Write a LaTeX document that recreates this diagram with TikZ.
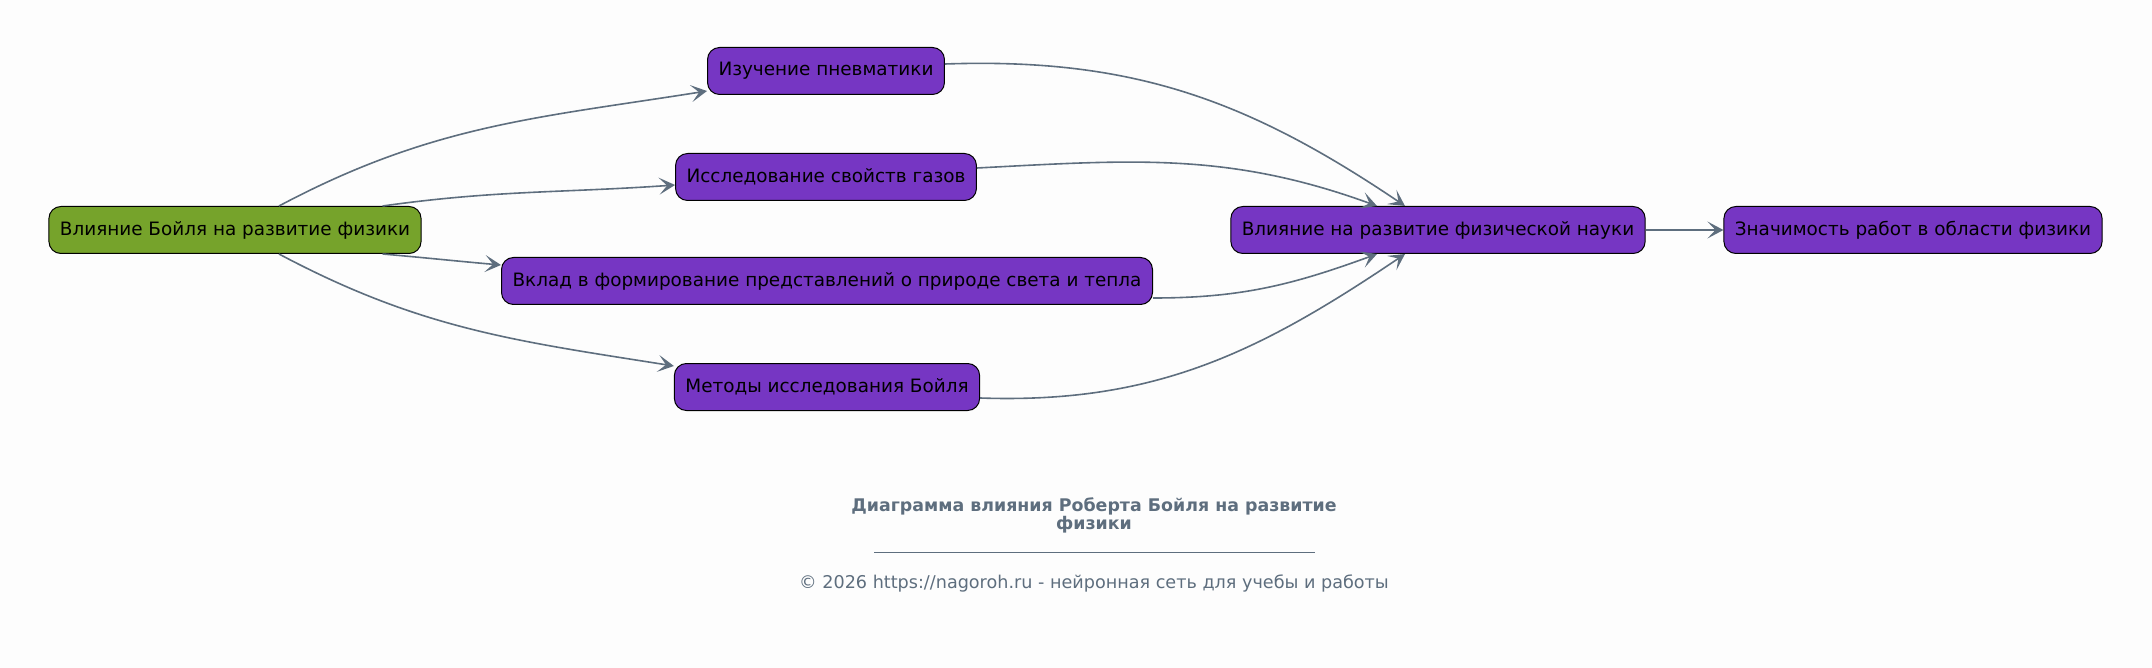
\documentclass[tikz,border=0pt]{standalone}
\usepackage{fontspec}
\setmainfont{DejaVu Sans}
\usepackage{xcolor}
\usepackage{tikz}
\usetikzlibrary{arrows.meta,positioning,calc}

\definecolor{bgcol}{HTML}{FDFDFD}
\definecolor{rootgreen}{HTML}{76A32B}
\definecolor{nodepurple}{HTML}{7636C3}
\definecolor{edgegray}{HTML}{5E6E7E}

\begin{document}
\begin{tikzpicture}[x=0.5pt, y=-0.5pt, font=\fontsize{9.2}{11}\selectfont]
\tikzstyle{box}=[draw=black, line width=0.5pt, rounded corners=6pt, fill=nodepurple, text=black, minimum height=23.5pt, inner xsep=5.5pt]
\tikzstyle{rootbox}=[box, fill=rootgreen]
\tikzstyle{link}=[draw=edgegray, line width=0.8pt, -{Stealth[length=8pt, width=8.5pt, inset=4pt]}]

% page
\fill[bgcol] (0,0) rectangle (2152,668);

\node[rootbox] (root) at (235,230) {Влияние Бойля на развитие физики};
\node[box] (pnev) at (826,71) {Изучение пневматики};
\node[box] (gas) at (826,177) {Исследование свойств газов};
\node[box] (light) at (827,281) {Вклад в формирование представлений о природе света и тепла};
\node[box] (meth) at (827,387) {Методы исследования Бойля};
\node[box] (infl) at (1438,230) {Влияние на развитие физической науки};
\node[box] (sig) at (1913,230) {Значимость работ в области физики};

\draw[link] ($(root.north)+(44,0)$) to[out=28, in=189] ($(pnev.south west)+(0,-4)$);
\draw[link] ($(root.north east)+(-39,0)$) to[out=8, in=184] ($(gas.west)+(0,8)$);
\draw[link] ($(root.south east)+(-39,0)$) to[out=-5, in=175] ($(light.west)+(0,-16)$);
\draw[link] ($(root.south)+(44,0)$) to[out=-28, in=171] ($(meth.west)+(0,-21)$);

\draw[link] ($(pnev.east)+(0,-7)$) to[out=2, in=146] ($(infl.north)+(-33,0)$);
\draw[link] ($(gas.east)+(0,-9)$) to[out=3, in=160] ($(infl.north)+(-61,0)$);
\draw[link] ($(light.east)+(0,17)$) to[out=0, in=200] ($(infl.south)+(-61,0)$);
\draw[link] ($(meth.east)+(0,11)$) to[out=-2, in=214] ($(infl.south)+(-33,0)$);
\draw[link] (infl) -- (sig);

% caption
\node[text=edgegray, font=\bfseries\fontsize{8.7}{9}\selectfont, align=center] (title) at (1094,515) {Диаграмма влияния Роберта Бойля на развитие\\физики};
\coordinate (ruleL) at (874,552);
\coordinate (ruleR) at (1315,552);
\draw[edgegray, line width=0.5pt] (ruleL) -- (ruleR);
\node[text=edgegray, font=\fontsize{8.8}{11}\selectfont] (foot) at (1094,583) {© 2026 https://nagoroh.ru - нейронная сеть для учебы и работы};
\end{tikzpicture}
\end{document}
